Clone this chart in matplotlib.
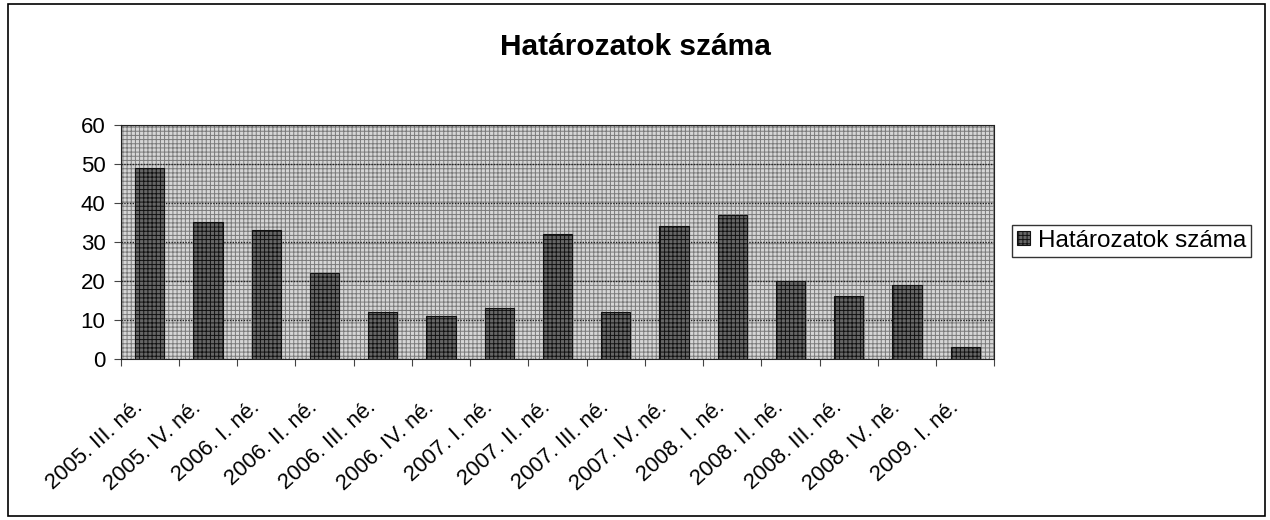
import matplotlib
matplotlib.use("Agg")
import matplotlib.pyplot as plt
from matplotlib.patches import Rectangle

plt.rcParams['font.family'] = ['Liberation Sans', 'DejaVu Sans']
plt.rcParams['hatch.linewidth'] = 0.7

categories = ["2005. III. né.", "2005. IV. né.", "2006. I. né.", "2006. II. né.",
              "2006. III. né.", "2006. IV. né.", "2007. I. né.", "2007. II. né.",
              "2007. III. né.", "2007. IV. né.", "2008. I. né.", "2008. II. né.",
              "2008. III. né.", "2008. IV. né.", "2009. I. né."]
values = [49, 35, 33, 22, 12, 11, 13, 32, 12, 34, 37, 20, 16, 19, 3]
series_name = "Határozatok száma"
yticks = [0, 10, 20, 30, 40, 50, 60]

fig = plt.figure(figsize=(12.7, 5.2), dpi=100)
fig.patches.append(Rectangle((0.006, 0.008), 0.99, 0.984, transform=fig.transFigure,
                             fill=False, edgecolor='black', linewidth=1.2))
ax = fig.add_axes([0.095, 0.31, 0.688, 0.45])

ax.set_facecolor('#d6d6d6')
ax.add_patch(Rectangle((0, 0), 1, 1, transform=ax.transAxes, facecolor='none',
                       edgecolor='#7a7a7a', hatch='++++', linewidth=0, zorder=0))

x = list(range(len(categories)))
bars = ax.bar(x, values, width=0.5, facecolor='#666666', edgecolor='#111111',
              hatch='++++', linewidth=0.8, zorder=3, label=series_name)

ax.set_xlim(-0.5, len(categories) - 0.5)
ax.set_ylim(0, 60)
ax.set_yticks(yticks)
ax.yaxis.grid(True, color='#222222', linestyle=(0, (1, 1)), linewidth=1.0, zorder=1)
ax.set_axisbelow(True)

ax.set_xticks([i - 0.5 for i in range(len(categories) + 1)], minor=False)
ax.set_xticklabels([''] * (len(categories) + 1))
ax.set_xticks([i - 0.17 for i in x], minor=True)
ax.set_xticklabels(categories, minor=True, rotation=42, ha='right', va='center',
                   rotation_mode='anchor', fontsize=15.8)
ax.tick_params(axis='x', which='minor', length=0, pad=33)
ax.tick_params(axis='x', which='major', length=5, direction='out', color='#444444')
ax.tick_params(axis='y', labelsize=16, length=5, color='#444444', pad=6)

for s in ['top', 'right', 'left', 'bottom']:
    ax.spines[s].set_linestyle((0, (1, 1)))
    ax.spines[s].set_color('#222222')

fig.text(0.5, 0.91, series_name, ha='center', va='center', fontsize=21.5, fontweight='bold')

leg = fig.legend(handles=[bars], labels=[series_name], loc='center left',
                 bbox_to_anchor=(0.797, 0.537), fontsize=17.5, frameon=True,
                 fancybox=False, edgecolor='black', handlelength=0.55, handleheight=0.55,
                 handletextpad=0.3, borderpad=0.2, borderaxespad=0)
leg.get_frame().set_linewidth(1.0)

fig.savefig('out.png', dpi=100)
